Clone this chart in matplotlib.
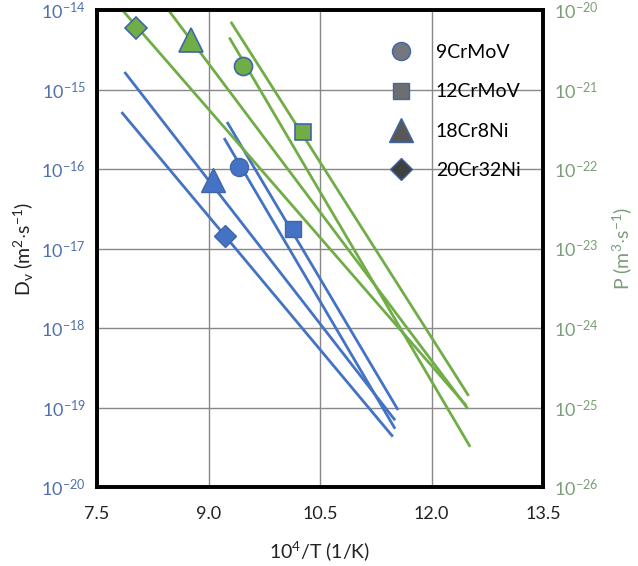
import matplotlib
matplotlib.use("Agg")
import matplotlib.pyplot as plt
from matplotlib.lines import Line2D
from matplotlib.ticker import FixedFormatter, NullLocator

BLUE, GREEN = "#4472C4", "#70AD47"
EDGE = "#3F67A8"
LEFT_TXT, RIGHT_TXT = "#4F70AA", "#7A9E78"

plt.rcParams.update({"font.family": ["Lato", "DejaVu Sans"], "font.size": 12,
                     "mathtext.fontset": "custom", "mathtext.rm": "Lato",
                     "mathtext.it": "Lato:italic"})

alloys = ["9CrMoV", "12CrMoV", "18Cr8Ni", "20Cr32Ni"]
markers = ["o", "s", "^", "D"]
legend_faces = ["#76767E", "#6E6E70", "#585858", "#404040"]

# lattice diffusion D_v (left axis): line end points and the marked point
dv_line_x = [[9.21, 11.51], [9.25, 11.55], [7.87, 11.51], [7.83, 11.48]]
dv_line_y = [[2.45e-16, 5.4e-20], [3.9e-16, 9.3e-20], [1.66e-15, 6.9e-20], [5.2e-16, 4.3e-20]]
dv_pt_x = [9.41, 10.14, 9.06, 9.22]
dv_pt_y = [1.07e-16, 1.74e-17, 7.2e-17, 1.45e-17]

# P (right axis)
p_line_x = [[9.28, 12.52], [9.30, 12.50], [8.46, 12.49], [7.84, 12.47]]
p_line_y = [[4.5e-21, 3.2e-26], [7.1e-21, 1.4e-25], [1.0e-20, 9.6e-26], [1.0e-20, 1.05e-25]]
p_pt_x = [9.46, 10.27, 8.77, 8.02]
p_pt_y = [2.0e-21, 2.9e-22, 4.2e-21, 5.9e-21]

xticks = [7.5, 9.0, 10.5, 12.0, 13.5]
left_exp = [-20, -19, -18, -17, -16, -15, -14]
right_exp = [-26, -25, -24, -23, -22, -21, -20]
msize = {"o": 13, "s": 12, "^": 17, "D": 11}

fig = plt.figure(figsize=(6.38, 5.66), dpi=100)
ax = fig.add_axes([97 / 638, 1 - 487 / 566, 446 / 638, 477 / 566])
ax2 = ax.twinx()

for xs, ys in zip(dv_line_x, dv_line_y):
    ax.plot(xs, ys, color=BLUE, lw=2.0, solid_capstyle="butt")
for x, y, m in zip(dv_pt_x, dv_pt_y, markers):
    ax.plot([x], [y], marker=m, ms=msize[m], color=BLUE, mec=EDGE, mew=1.0, ls="none")

for xs, ys in zip(p_line_x, p_line_y):
    ax2.plot(xs, ys, color=GREEN, lw=2.0, solid_capstyle="butt")
for x, y, m in zip(p_pt_x, p_pt_y, markers):
    ax2.plot([x], [y], marker=m, ms=msize[m], color=GREEN, mec=EDGE, mew=1.2, ls="none")

ax.set_xlim(7.5, 13.5)
ax.set_xticks(xticks)
ax.set_xticklabels([f"{v:.1f}" for v in xticks], color="#222222")
ax.set_yscale("log")
ax.set_ylim(1e-20, 1e-14)
ax.set_yticks([10.0 ** e for e in left_exp])
ax.yaxis.set_major_formatter(FixedFormatter([f"$10^{{{e}}}$" for e in left_exp]))
ax.yaxis.set_minor_locator(NullLocator())
ax.tick_params(axis="y", colors=LEFT_TXT, length=0, pad=8, labelsize=13)
ax.tick_params(axis="x", length=0, pad=14, labelsize=13)

ax2.set_yscale("log")
ax2.set_ylim(1e-26, 1e-20)
ax2.set_yticks([10.0 ** e for e in right_exp])
ax2.yaxis.set_major_formatter(FixedFormatter([f"$10^{{{e}}}$" for e in right_exp]))
ax2.yaxis.set_minor_locator(NullLocator())
ax2.tick_params(axis="y", colors=RIGHT_TXT, length=0, pad=8, labelsize=13)

ax.grid(True, color="#888888", lw=1.0)
ax.set_axisbelow(True)
for a in (ax, ax2):
    for s in a.spines.values():
        s.set_linewidth(2.6)
        s.set_color("black")

ax.set_xlabel("10$^{4}$/T (1/K)", fontsize=14, color="#222222", labelpad=12)
ax.set_ylabel("D$_{\\mathrm{v}}$ (m$^{2}$$\\cdot$s$^{-1}$)", fontsize=14, color="#222222", labelpad=4)
ax2.set_ylabel("P (m$^{3}$$\\cdot$s$^{-1}$)", fontsize=14, color=RIGHT_TXT, labelpad=8)

handles = [Line2D([], [], marker=m, ms=msize[m], color=c, mec=EDGE, mew=1.0, ls="none")
           for m, c in zip(markers, legend_faces)]
ax2.legend(handles, alloys, loc="upper left", bbox_to_anchor=(0.62, 0.945), frameon=False,
           fontsize=14, labelspacing=1.15, handletextpad=0.8, borderaxespad=0)

fig.savefig("out.png", dpi=100)
